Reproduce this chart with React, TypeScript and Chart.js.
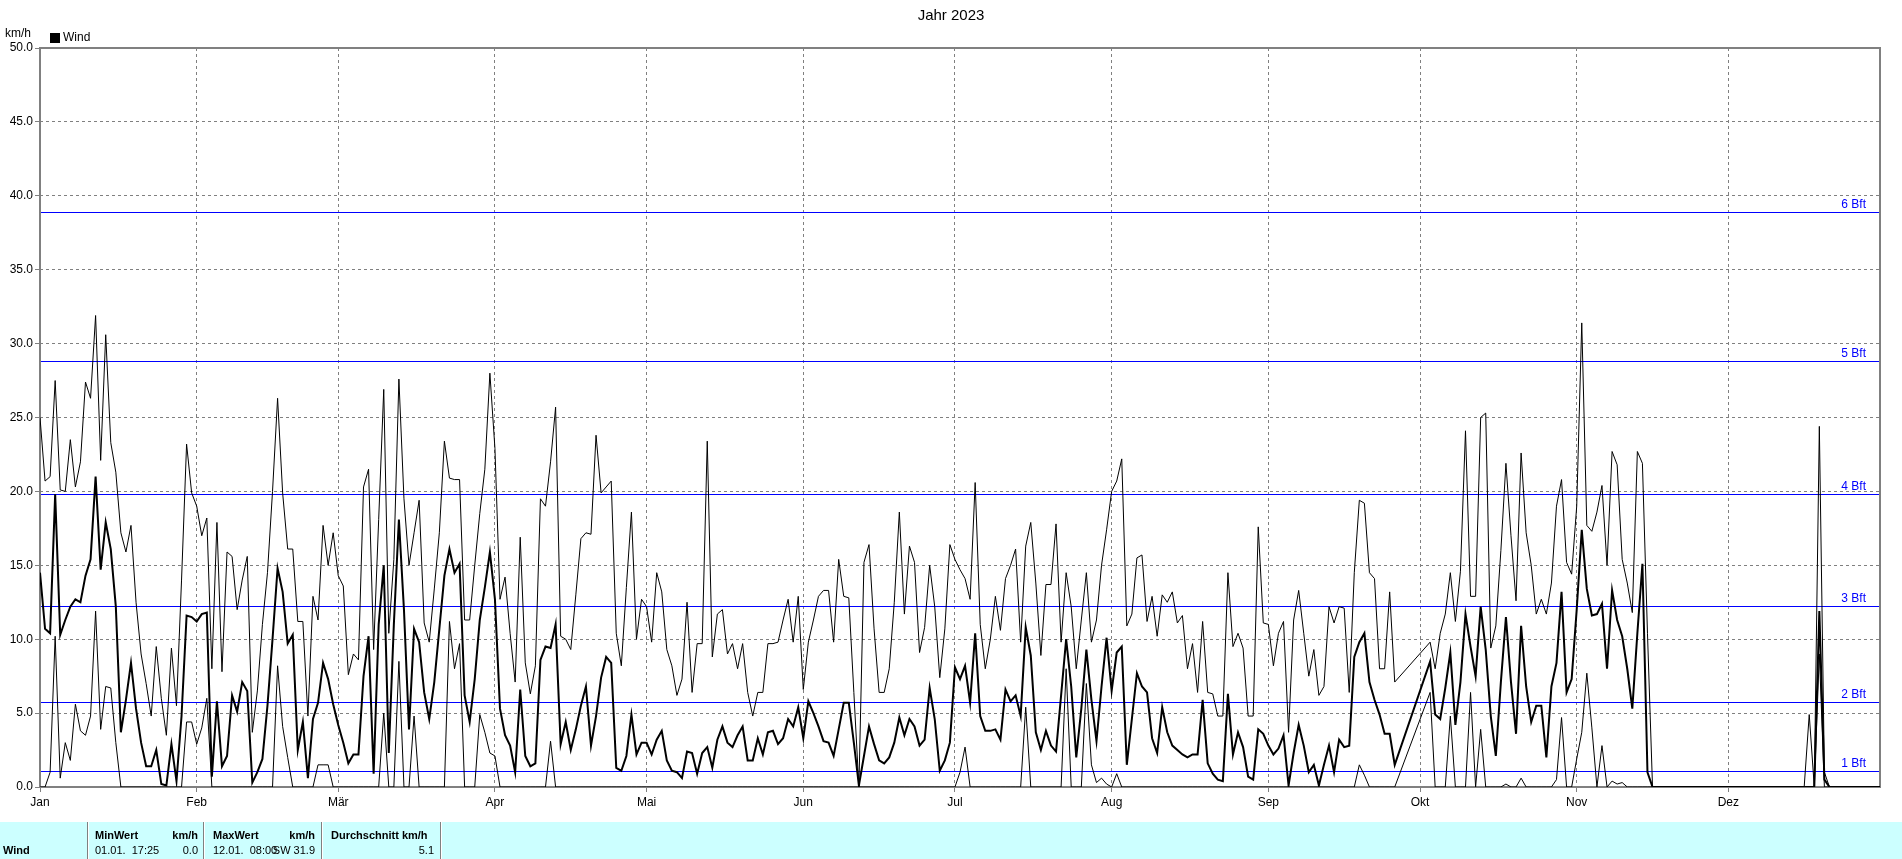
import React, { useEffect, useRef } from "react";
import { Chart, registerables } from "chart.js";

Chart.register(...registerables);

// ---- axis / label data ----
const monthStarts = [0, 31, 59, 90, 120, 151, 181, 212, 243, 273, 304, 334];
const monthLabels = ["Jan", "Feb", "Mär", "Apr", "Mai", "Jun", "Jul", "Aug", "Sep", "Okt", "Nov", "Dez"];
const yMin = 0;
const yMax = 50;
const yStep = 5;
const dayCount = 365;

// Beaufort thresholds in km/h
const bftLevels = [1.08, 5.76, 12.24, 19.8, 28.8, 38.88];
const bftLabels = ["1 Bft", "2 Bft", "3 Bft", "4 Bft", "5 Bft", "6 Bft"];

const chartTitle = "Jahr 2023";
const unitLabel = "km/h";
const legendLabel = "Wind";

// ---- daily series (km/h), index 0 = 1 Jan, null = no data ----
const windMax: (number | null)[] = [
  // Jan
  25.0, 20.7, 21.0, 27.5, 20.1, 20.0, 23.5, 20.3, 22.0, 27.4, 26.3, 31.9, 22.1, 30.6, 23.3, 21.3, 17.2, 15.9, 17.7, 12.5, 9.0, 7.0, 4.8, 9.5, 6.0, 3.5, 9.4, 5.5, 14.0, 23.2, 19.9,
  // Feb
  19.0, 17.0, 18.2, 8.0, 17.9, 7.8, 15.9, 15.6, 12.0, 14.0, 15.6, 3.7, 6.5, 11.0, 14.5, 20.0, 26.3, 19.9, 16.1, 16.1, 11.2, 11.2, 4.8, 12.9, 11.3, 17.7, 15.0, 17.2,
  // Mär
  14.3, 13.6, 7.6, 9.0, 8.6, 20.3, 21.5, 9.3, 18.1, 26.9, 10.4, 15.4, 27.6, 19.5, 15.0, 17.2, 19.4, 11.1, 9.8, 13.4, 17.2, 23.4, 20.9, 20.8, 20.8, 11.3, 11.3, 15.0, 18.5, 21.5, 28.0,
  // Apr
  22.9, 12.7, 14.2, 10.4, 7.1, 16.9, 8.4, 6.3, 8.2, 19.5, 19.0, 22.0, 25.7, 10.2, 10.0, 9.3, 13.0, 16.8, 17.2, 17.1, 23.8, 19.9, 20.3, 20.7, 10.4, 8.2, 13.5, 18.6, 10.0, 12.7,
  // Mai
  12.2, 9.8, 14.5, 13.2, 9.3, 8.2, 6.2, 7.3, 12.5, 6.4, 9.7, 9.7, 23.4, 8.8, 11.7, 12.0, 9.0, 9.7, 8.0, 9.7, 6.4, 4.8, 6.4, 6.4, 9.7, 9.7, 9.8, 11.3, 12.7, 9.8, 12.9,
  // Jun
  6.6, 9.8, 11.3, 12.9, 13.3, 13.3, 9.8, 15.4, 12.9, 12.8, 6.4, 0, 15.2, 16.4, 10.7, 6.4, 6.4, 8.0, 12.5, 18.6, 11.7, 16.3, 15.2, 9.1, 10.8, 15.0, 12.2, 7.4, 10.7, 16.4,
  // Jul
  15.4, 14.7, 14.1, 12.7, 20.6, 11.0, 8.0, 10.0, 12.9, 10.6, 14.1, 15.0, 16.1, 9.8, 16.3, 17.9, 13.8, 8.9, 13.7, 13.7, 17.8, 9.8, 14.5, 12.2, 8.0, 11.3, 14.5, 9.8, 11.3, 15.0, 17.4,
  // Aug
  20.0, 20.7, 22.2, 10.9, 11.7, 15.5, 15.7, 11.2, 12.9, 10.2, 13.0, 12.5, 13.2, 11.1, 11.6, 8.0, 9.7, 6.4, 11.2, 6.4, 6.3, 4.8, 4.8, 14.5, 9.5, 10.4, 9.4, 4.8, 4.8, 17.6, 11.1,
  // Sep
  11.0, 8.2, 10.4, 11.2, 3.7, 11.3, 13.3, 10.4, 7.5, 9.3, 6.2, 6.8, 12.2, 11.1, 12.2, 12.1, 6.4, 14.5, 19.4, 19.2, 14.5, 14.1, 8.0, 8.0, 13.2, 7.1, null, null, null, null,
  // Okt
  null, null, 9.8, 8.0, 10.4, 11.7, 14.5, 11.2, 14.6, 24.1, 12.9, 12.9, 25.0, 25.3, 9.4, 10.9, 16.0, 21.9, 17.0, 12.6, 22.6, 17.2, 15.0, 11.7, 12.7, 11.7, 13.8, 19.0, 20.8, 15.2, 14.4,
  // Nov
  19.0, 31.4, 17.7, 17.3, 18.6, 20.4, 15.0, 22.7, 21.8, 15.4, 13.8, 11.8, 22.7, 21.9, 10.4, 0, 0, 0, 0, 0, 0, 0, 0, 0, 0, 0, 0, 0, 0, 0,
  // Dez
  0, 0, 0, 0, 0, 0, 0, 0, 0, 0, 0, 0, 0, 0, 0, 0, 4.9, 0, 24.4, 1.0, 0, 0, 0, 0, 0, 0, 0, 0, 0, 0, 0,
];

const windAvg: (number | null)[] = [
  // Jan
  14.5, 10.7, 10.4, 19.8, 10.3, 11.3, 12.2, 12.7, 12.5, 14.3, 15.4, 21.0, 14.7, 17.9, 16.1, 12.2, 3.7, 5.9, 8.4, 5.3, 3.0, 1.4, 1.4, 2.5, 0.2, 0.1, 2.9, 0.4, 4.8, 11.6, 11.5,
  // Feb
  11.2, 11.7, 11.8, 0.7, 5.8, 1.4, 2.1, 6.2, 5.1, 7.1, 6.5, 0.3, 1.0, 1.9, 5.5, 10.0, 14.8, 13.2, 9.7, 10.3, 2.5, 4.4, 0.6, 4.6, 5.7, 8.4, 7.3, 5.6,
  // Mär
  4.2, 3.0, 1.6, 2.2, 2.2, 7.5, 10.2, 0.9, 11.0, 15.0, 2.3, 11.0, 18.1, 12.0, 3.9, 10.7, 9.8, 6.4, 4.6, 7.1, 10.7, 14.3, 16.1, 14.5, 15.1, 6.2, 4.4, 7.3, 11.3, 13.5, 15.9,
  // Apr
  12.7, 5.3, 3.5, 2.8, 1.0, 6.6, 2.1, 1.4, 1.6, 8.6, 9.5, 9.4, 11.0, 2.9, 4.4, 2.5, 3.9, 5.5, 6.8, 2.8, 4.8, 7.4, 8.8, 8.4, 1.3, 1.1, 2.1, 4.9, 2.2, 3.0,
  // Mai
  3.0, 2.2, 3.2, 3.8, 1.8, 1.1, 1.0, 0.6, 2.4, 2.3, 0.9, 2.3, 2.7, 1.3, 3.2, 4.1, 3.0, 2.7, 3.5, 4.1, 1.8, 1.8, 3.3, 2.2, 3.7, 3.8, 2.9, 3.3, 4.6, 4.1, 5.4,
  // Jun
  3.3, 5.8, 5.0, 4.1, 3.1, 3.0, 2.1, 3.9, 5.7, 5.7, 3.0, 0.1, 2.1, 4.1, 2.9, 1.8, 1.6, 2.0, 3.0, 4.7, 3.5, 4.6, 4.1, 2.8, 3.2, 6.7, 4.6, 1.1, 1.8, 3.0,
  // Jul
  8.1, 7.3, 8.2, 5.7, 10.4, 4.8, 3.8, 3.8, 3.9, 3.2, 6.6, 5.8, 6.2, 4.8, 10.8, 8.9, 3.7, 2.5, 3.8, 2.8, 2.4, 6.2, 10.0, 6.8, 2.0, 5.3, 9.3, 5.9, 3.1, 6.8, 10.1,
  // Aug
  6.5, 9.1, 9.5, 1.5, 4.6, 7.7, 6.8, 6.4, 3.3, 2.3, 5.4, 3.7, 2.8, 2.5, 2.2, 2.0, 2.2, 2.2, 5.9, 1.6, 0.9, 0.5, 0.4, 6.3, 2.2, 3.7, 2.7, 0.7, 0.5, 3.9, 3.6,
  // Sep
  2.8, 2.2, 2.6, 3.5, 0.1, 2.3, 4.2, 2.8, 1.0, 1.5, 0.1, 1.5, 2.8, 1.0, 3.2, 2.7, 2.8, 8.8, 9.8, 10.4, 7.1, 5.9, 4.9, 3.6, 3.6, 1.5, null, null, null, null,
  // Okt
  null, null, 8.5, 4.9, 4.6, 6.7, 9.1, 4.2, 7.1, 11.7, 9.5, 7.5, 12.2, 9.3, 4.8, 2.1, 7.1, 11.5, 7.1, 3.6, 10.9, 6.8, 4.4, 5.5, 5.5, 2.0, 6.8, 8.4, 13.2, 6.4, 7.3,
  // Nov
  12.0, 17.4, 13.4, 11.6, 11.7, 12.4, 8.0, 13.3, 11.3, 10.2, 8.0, 5.3, 10.4, 15.1, 1.0, 0, 0, 0, 0, 0, 0, 0, 0, 0, 0, 0, 0, 0, 0, 0,
  // Dez
  0, 0, 0, 0, 0, 0, 0, 0, 0, 0, 0, 0, 0, 0, 0, 0, 0, 0, 11.9, 0.5, 0, 0, 0, 0, 0, 0, 0, 0, 0, 0, 0,
];

const windMin: (number | null)[] = [
  // Jan
  0, 0, 1.0, 10.2, 0.6, 3.0, 1.8, 5.6, 3.8, 3.5, 4.8, 11.9, 3.9, 6.8, 6.7, 3.0, 0, 0, 0, 0, 0, 0, 0, 0, 0, 0, 0, 0, 0, 4.4, 4.4,
  // Feb
  2.9, 4.0, 6.0, 0, 0, 0, 0, 0, 0, 0, 0, 0, 0, 0, 0, 0, 8.2, 4.1, 2.0, 0, 0, 0, 0, 0, 1.5, 1.5, 1.5, 0,
  // Mär
  0, 0, 0, 0, 0, 0, 0, 0, 0, 5.0, 0, 0, 8.5, 0, 0, 4.8, 0, 0, 0, 0, 0, 0, 11.2, 8.0, 9.7, 0, 0, 0, 4.9, 3.7, 2.3,
  // Apr
  2.1, 0, 0, 0, 0, 0, 0, 0, 0, 0, 0, 3.1, 0, 0, 0, 0, 0, 0, 0, 0, 0, 0, 0, 0, 0, 0, 0, 0, 0, 0,
  // Mai
  0, 0, 0, 0, 0, 0, 0, 0, 0, 0, 0, 0, 0, 0, 0, 0, 0, 0, 0, 0, 0, 0, 0, 0, 0, 0, 0, 0, 0, 0, 0,
  // Jun
  0, 0, 0, 0, 0, 0, 0, 0, 0, 0, 0, 0, 0, 0, 0, 0, 0, 0, 0, 0, 0, 0, 0, 0, 0, 0, 0, 0, 0, 0,
  // Jul
  0, 1.0, 2.7, 0, 0, 0, 0, 0, 0, 0, 0, 0, 0, 0, 5.4, 0, 0, 0, 0, 0, 0, 0, 8.0, 0, 0, 0, 7.0, 1.5, 0.3, 0.6, 0.2,
  // Aug
  0, 0.9, 0, 0, 0, 0, 0, 0, 0, 0, 0, 0, 0, 0, 0, 0, 0, 0, 0, 0, 0, 0, 0, 0, 0, 0, 0, 0, 0, 0, 0,
  // Sep
  0, 0, 0, 0, 0, 0, 0, 0, 0, 0, 0, 0, 0, 0, 0, 0, 0, 0, 1.5, 0.8, 0, 0, 0, 0, 0, 0, null, null, null, null,
  // Okt
  null, null, 6.4, 0, 0, 0, 4.8, 0, 0, 0, 6.4, 0, 3.9, 0, 0, 0, 0, 0.2, 0, 0, 0.6, 0, 0, 0, 0, 0, 0, 0.5, 4.7, 0, 0,
  // Nov
  1.9, 3.7, 7.7, 4.0, 0, 2.8, 0, 0.4, 0.2, 0.3, 0, 0, 0, 0, 0, 0, 0, 0, 0, 0, 0, 0, 0, 0, 0, 0, 0, 0, 0, 0,
  // Dez
  0, 0, 0, 0, 0, 0, 0, 0, 0, 0, 0, 0, 0, 0, 0, 0, 0, 0, 9.0, 0, 0, 0, 0, 0, 0, 0, 0, 0, 0, 0, 0,
];

// ---- summary table ----
const tableRowLabel = "Wind";
const tableMinHeader = "MinWert";
const tableMaxHeader = "MaxWert";
const tableAvgHeader = "Durchschnitt km/h";
const tableMinWhen = "01.01.  17:25";
const tableMinValue = "0.0";
const tableMaxWhen = "12.01.  08:00";
const tableMaxValue = "SW 31.9";
const tableAvgValue = "5.1";

const FONT = "'Liberation Sans', Arial, sans-serif";

function toPoints(arr: (number | null)[]) {
  return arr.map((v, i) => ({ x: i, y: v }));
}

const decorPlugin = {
  id: "decor",
  beforeDraw(chart: any) {
    const { ctx, width, height } = chart;
    ctx.save();
    ctx.fillStyle = "#ffffff";
    ctx.fillRect(0, 0, width, height);
    ctx.restore();
  },
  beforeDatasetsDraw(chart: any) {
    const { ctx, chartArea: a, scales } = chart;
    const ys = scales.y;
    ctx.save();
    ctx.strokeStyle = "#0000ff";
    ctx.lineWidth = 1;
    bftLevels.forEach((v) => {
      const py = Math.round(ys.getPixelForValue(v)) + 0.5;
      ctx.beginPath();
      ctx.moveTo(a.left, py);
      ctx.lineTo(a.right, py);
      ctx.stroke();
    });
    ctx.strokeStyle = "#808080";
    ctx.lineWidth = 2;
    ctx.strokeRect(a.left, a.top, a.right - a.left, a.bottom - a.top);
    ctx.restore();
  },
  afterDraw(chart: any) {
    const { ctx, chartArea: a, scales, width, height } = chart;
    const ys = scales.y;
    ctx.save();
    // Bft labels
    ctx.fillStyle = "#0000ff";
    ctx.font = `12px ${FONT}`;
    ctx.textAlign = "right";
    ctx.textBaseline = "alphabetic";
    bftLevels.forEach((v, i) => {
      const py = Math.round(ys.getPixelForValue(v));
      ctx.fillText(bftLabels[i], a.right - 14, py - 4);
    });
    // title
    ctx.fillStyle = "#000000";
    ctx.font = `15px ${FONT}`;
    ctx.textAlign = "center";
    ctx.textBaseline = "middle";
    ctx.fillText(chartTitle, width / 2, 16);
    // unit
    ctx.font = `12px ${FONT}`;
    ctx.textAlign = "left";
    ctx.fillText(unitLabel, 5, 34);
    // legend
    ctx.fillRect(50, 33, 10, 10);
    ctx.fillText(legendLabel, 63, 38);

    // summary table
    const tTop = 822;
    ctx.fillStyle = "#ccffff";
    ctx.fillRect(0, tTop, width, height - tTop);
    const dividers = [88, 204, 322, 441];
    dividers.forEach((x) => {
      ctx.fillStyle = "#808080";
      ctx.fillRect(x - 1, tTop, 1, height - tTop);
      ctx.fillStyle = "#ffffff";
      ctx.fillRect(x, tTop, 1, height - tTop);
    });
    const r1 = 836;
    const r2 = 851;
    ctx.fillStyle = "#000000";
    ctx.textBaseline = "middle";
    ctx.font = `bold 11px ${FONT}`;
    ctx.textAlign = "left";
    ctx.fillText(tableMinHeader, 95, r1);
    ctx.fillText(tableMaxHeader, 213, r1);
    ctx.fillText(tableAvgHeader, 331, r1);
    ctx.fillText(tableRowLabel, 3, r2);
    ctx.textAlign = "right";
    ctx.fillText(unitLabel, 198, r1);
    ctx.fillText(unitLabel, 315, r1);
    ctx.font = `11px ${FONT}`;
    ctx.textAlign = "left";
    ctx.fillText(tableMinWhen, 95, r2);
    ctx.fillText(tableMaxWhen, 213, r2);
    ctx.textAlign = "right";
    ctx.fillText(tableMinValue, 198, r2);
    ctx.fillText(tableMaxValue, 315, r2);
    ctx.fillText(tableAvgValue, 434, r2);
    ctx.restore();
  },
};

export default function App() {
  const canvasRef = useRef<HTMLCanvasElement | null>(null);

  useEffect(() => {
    document.body.style.margin = "0";
    document.documentElement.style.overflow = "hidden";
    const canvas = canvasRef.current;
    if (!canvas) return;
    const lineBase = {
      borderColor: "#000000",
      pointRadius: 0,
      pointHoverRadius: 0,
      tension: 0,
      spanGaps: true,
      fill: false,
    };
    const chart = new Chart(canvas, {
      type: "line",
      data: {
        datasets: [
          { ...lineBase, label: "Max", data: toPoints(windMax), borderWidth: 1 },
          { ...lineBase, label: "Min", data: toPoints(windMin), borderWidth: 1 },
          { ...lineBase, label: "Wind", data: toPoints(windAvg), borderWidth: 2 },
        ],
      },
      options: {
        responsive: false,
        animation: false,
        events: [],
        layout: { padding: { left: 0, right: 22, top: 48, bottom: 0 } },
        plugins: {
          legend: { display: false },
          title: { display: false },
          tooltip: { enabled: false },
        },
        scales: {
          x: {
            type: "linear",
            min: 0,
            max: dayCount - 1,
            afterFit: (s: any) => {
              s.height = 72;
            },
            afterBuildTicks: (s: any) => {
              s.ticks = monthStarts.map((v) => ({ value: v }));
            },
            ticks: {
              autoSkip: false,
              maxRotation: 0,
              minRotation: 0,
              padding: 3,
              color: "#000000",
              font: { family: FONT, size: 12 },
              callback: (v: any) => {
                const idx = monthStarts.indexOf(Number(v));
                return idx >= 0 ? monthLabels[idx] : "";
              },
            },
            grid: {
              color: "#808080",
              lineWidth: 1,
              tickLength: 5,
              tickColor: "#808080",
              z: -1,
            },
            border: { display: false, dash: [3, 3], z: -1 },
          },
          y: {
            type: "linear",
            min: yMin,
            max: yMax,
            afterFit: (s: any) => {
              s.width = 40;
            },
            ticks: {
              stepSize: yStep,
              padding: 2,
              color: "#000000",
              font: { family: FONT, size: 12 },
              callback: (v: any) => Number(v).toFixed(1),
            },
            grid: {
              color: "#808080",
              lineWidth: 1,
              tickLength: 5,
              tickColor: "#808080",
              z: -1,
            },
            border: { display: false, dash: [3, 3], z: -1 },
          },
        },
      },
      plugins: [decorPlugin],
    } as any);
    return () => {
      chart.destroy();
    };
  }, []);

  return (
    <div style={{ width: 1902, height: 859 }}>
      <canvas ref={canvasRef} width={1902} height={859} style={{ display: "block" }} />
    </div>
  );
}
